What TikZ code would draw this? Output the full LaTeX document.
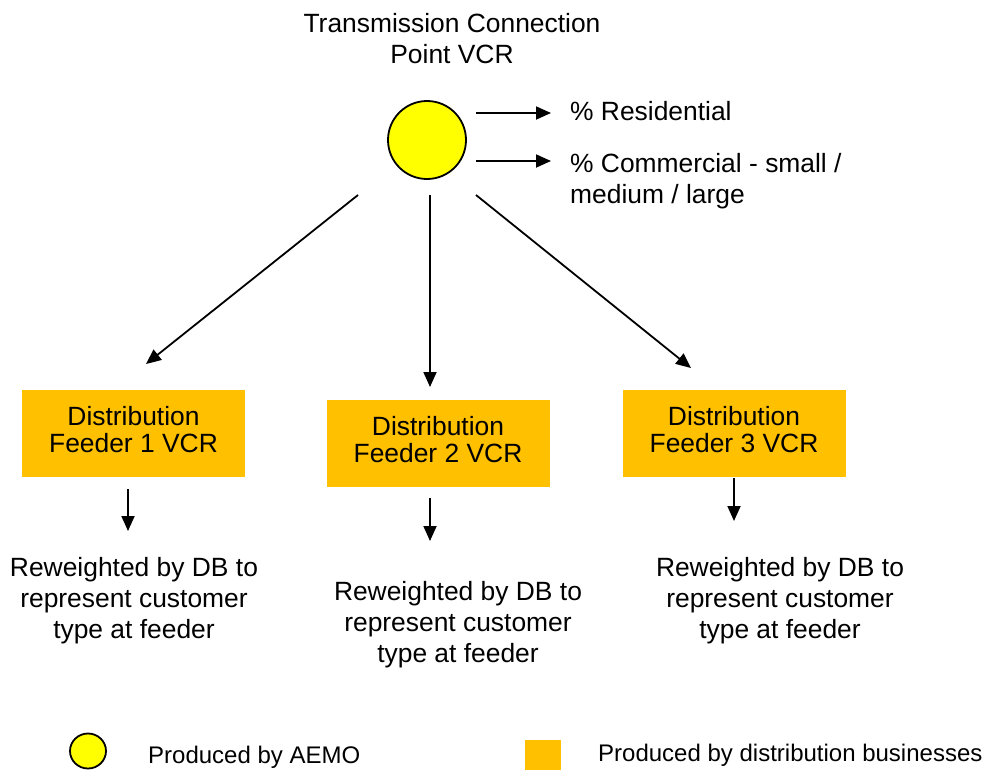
\documentclass[tikz,border=0pt]{standalone}
\usepackage{fontspec}
\setmainfont{Liberation Sans}
\usetikzlibrary{arrows.meta,shapes.geometric}
\definecolor{aemo}{HTML}{FFFF00}
\definecolor{dbiz}{HTML}{FFC000}
\begin{document}
\begin{tikzpicture}[x=1pt,y=-1pt,
  txt/.style={inner sep=0pt,align=center,font=\fontsize{26.4}{31}\selectfont},
  ltxt/.style={inner sep=0pt,align=left,anchor=west,font=\fontsize{26.4}{31}\selectfont},
  feeder/.style={fill=dbiz,draw=none,minimum width=223pt,minimum height=87pt,inner sep=0pt,align=center,font=\fontsize{26.4}{29}\selectfont},
  arr/.style={line width=1.8pt,-{Triangle[length=15pt,width=13pt]}},
  legtxt/.style={inner sep=0pt,anchor=west,font=\fontsize{24}{28}\selectfont}]
\useasboundingbox (0,0) rectangle (984,769);
% title and circle
\node[txt] (title) at (452,39) {Transmission Connection\\Point VCR};
\node[circle,draw,line width=1.8pt,fill=aemo,minimum size=78pt,inner sep=0pt] (tcp) at (427,140) {};
\node[ltxt] (res) at (570,111) {\% Residential};
\node[ltxt] (com) at (570,181) {\% Commercial - small /\\medium / large};
\coordinate (r1s) at (476,113); \coordinate (r1e) at (551,113);
\coordinate (r2s) at (476,161); \coordinate (r2e) at (551,161);
\draw[arr] (r1s) -- (r1e);
\draw[arr] (r2s) -- (r2e);
% feeders
\node[feeder] (f1) at (133.5,433.5) {\raisebox{3pt}{\begin{tabular}{@{}c@{}}Distribution\\[-2pt]Feeder 1 VCR\end{tabular}}};
\node[feeder] (f2) at (438,443.5) {\raisebox{3pt}{\begin{tabular}{@{}c@{}}Distribution\\[-2pt]Feeder 2 VCR\end{tabular}}};
\node[feeder] (f3) at (734,433.5) {\raisebox{3pt}{\begin{tabular}{@{}c@{}}Distribution\\[-2pt]Feeder 3 VCR\end{tabular}}};
% diagonal connectors
\coordinate (d1s) at (358,195); \coordinate (d1e) at (146,364);
\coordinate (d2s) at (430,195); \coordinate (d2e) at (430,387);
\coordinate (d3s) at (476,195); \coordinate (d3e) at (691,368);
\draw[arr] (d1s) -- (d1e);
\draw[arr] (d2s) -- (d2e);
\draw[arr] (d3s) -- (d3e);
% reweighted texts
\node[txt] (t1) at (134,601) {Reweighted by DB to\\represent customer\\type at feeder};
\node[txt] (t2) at (458,625) {Reweighted by DB to\\represent customer\\type at feeder};
\node[txt] (t3) at (780,601) {Reweighted by DB to\\represent customer\\type at feeder};
\coordinate (a1s) at (128,489); \coordinate (a1e) at (128,531);
\coordinate (a2s) at (430,498); \coordinate (a2e) at (430,541);
\coordinate (a3s) at (734,478); \coordinate (a3e) at (734,521);
\draw[arr] (a1s) -- (a1e);
\draw[arr] (a2s) -- (a2e);
\draw[arr] (a3s) -- (a3e);
% legend
\node[ellipse,draw,line width=1.8pt,fill=aemo,minimum width=36pt,minimum height=35pt,inner sep=0pt] (lc) at (88,751) {};
\node[legtxt] (lct) at (148,757) {Produced by AEMO};
\node[fill=dbiz,minimum width=36pt,minimum height=30pt,inner sep=0pt] (ls) at (543,755) {};
\node[legtxt] (lst) at (598,755) {Produced by distribution businesses};
\end{tikzpicture}
\end{document}
